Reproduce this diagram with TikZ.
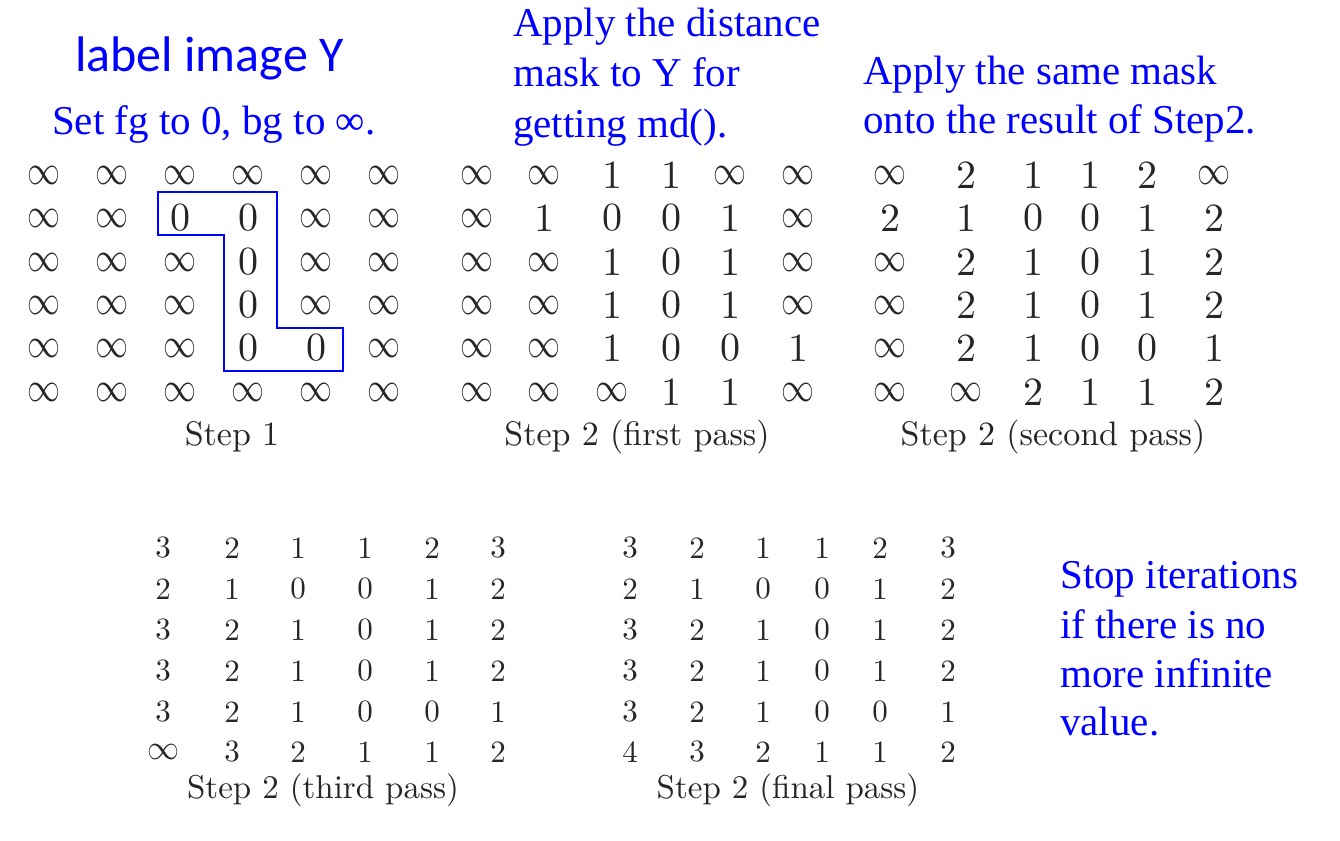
\documentclass[tikz,border=0pt]{standalone}
\usepackage{fontspec}
\usepackage{graphicx}
\newfontfamily\timesf{Liberation Serif}
\newfontfamily\calib{Carlito}
\newfontfamily\lmten{lmroman10-regular}[Extension=.otf]
\definecolor{ink}{HTML}{262626}
\definecolor{bluetxt}{HTML}{0000FF}
\newcommand\infbig{\resizebox{33pt}{18pt}{$\infty$}}
\newcommand\infsml{\resizebox{32pt}{15pt}{$\infty$}}
\newcommand\mkgrid[5]{%
  \foreach \rw [count=\r] in {#4} {%
    \foreach \v [count=\c] in \rw {%
      \pgfmathsetmacro\xx{{#2}[\c-1]}%
      \pgfmathsetmacro\yy{{#3}[\r-1]}%
      \node[#5] (#1-\r-\c) at (\xx,\yy) {\v};
    }}}
\begin{document}
\begin{tikzpicture}[x=1pt,y=-1pt,
  topcell/.style={inner sep=0pt, text=ink, font=\lmten\fontsize{40}{40}\selectfont},
  botcell/.style={inner sep=0pt, text=ink, font=\lmten\fontsize{31}{31}\selectfont},
  toplabel/.style={inner sep=0pt, anchor=base, text=ink, font=\lmten\fontsize{34}{34}\selectfont},
  botlabel/.style={inner sep=0pt, anchor=base, text=ink, font=\lmten\fontsize{33}{33}\selectfont},
  bluenote/.style={inner sep=0pt, anchor=base west, text=bluetxt, font=\timesf\fontsize{41}{41}\selectfont},
  outline/.style={draw=bluetxt, line width=1.7pt}]
\useasboundingbox (0,0) rectangle (1340,840);
\fill[white] (0,0) rectangle (1340,840);

% titles and notes
\node[inner sep=0pt, anchor=base west, text=bluetxt, font=\calib\fontsize{50}{50}\selectfont] (title) at (75,72) {label image Y};
\node[bluenote] (n1) at (52,135) {Set fg to 0, bg to ∞.};
\node[bluenote] (n2a) at (513,37) {Apply the distance};
\node[bluenote] (n2b) at (513,87) {mask to Y for};
\node[bluenote] (n2c) at (513,137) {getting md().};
\node[bluenote] (n3a) at (863,85) {Apply the same mask};
\node[bluenote] (n3b) at (863,133) {onto the result of Step2.};
\node[bluenote] (n4a) at (1060,588) {Stop iterations};
\node[bluenote] (n4b) at (1060,638) {if there is no};
\node[bluenote] (n4c) at (1060,687) {more infinite};
\node[bluenote] (n4d) at (1060,735) {value.};

% Step 1
\mkgrid{sa}{44,112,180,248,316,384}{175,218,262,305,348,392}{%
 {\infbig,\infbig,\infbig,\infbig,\infbig,\infbig},
 {\infbig,\infbig,0,0,\infbig,\infbig},
 {\infbig,\infbig,\infbig,0,\infbig,\infbig},
 {\infbig,\infbig,\infbig,0,\infbig,\infbig},
 {\infbig,\infbig,\infbig,0,0,\infbig},
 {\infbig,\infbig,\infbig,\infbig,\infbig,\infbig}}{topcell}
\draw[outline] (158,192) -- (277,192) -- (277,328) -- (343,328) -- (343,371) -- (224,371) -- (224,235) -- (158,235) -- cycle;
\node[toplabel] (la) at (232,445) {Step 1};

% Step 2 first pass
\mkgrid{sb}{477,544,612,671,730,798}{175,218,262,305,348,392}{%
 {\infbig,\infbig,1,1,\infbig,\infbig},
 {\infbig,1,0,0,1,\infbig},
 {\infbig,\infbig,1,0,1,\infbig},
 {\infbig,\infbig,1,0,1,\infbig},
 {\infbig,\infbig,1,0,0,1},
 {\infbig,\infbig,\infbig,1,1,\infbig}}{topcell}
\node[toplabel] (lb) at (637,445) {Step 2 (first pass)};

% Step 2 second pass
\mkgrid{sc}{890,966,1033,1090,1147,1214}{175,218,262,305,348,392}{%
 {\infbig,2,1,1,2,\infbig},
 {2,1,0,0,1,2},
 {\infbig,2,1,0,1,2},
 {\infbig,2,1,0,1,2},
 {\infbig,2,1,0,0,1},
 {\infbig,\infbig,2,1,1,2}}{topcell}
\node[toplabel] (lc) at (1053,445) {Step 2 (second pass)};

% Step 2 third pass
\mkgrid{sd}{163,232,298,365,432,498}{548,589,630,671,712,752}{%
 {3,2,1,1,2,3},
 {2,1,0,0,1,2},
 {3,2,1,0,1,2},
 {3,2,1,0,1,2},
 {3,2,1,0,0,1},
 {\infsml,3,2,1,1,2}}{botcell}
\node[botlabel] (ld) at (323,798) {Step 2 (third pass)};

% Step 2 final pass
\mkgrid{se}{630,697,763,822,880,948}{548,589,630,671,712,752}{%
 {3,2,1,1,2,3},
 {2,1,0,0,1,2},
 {3,2,1,0,1,2},
 {3,2,1,0,1,2},
 {3,2,1,0,0,1},
 {4,3,2,1,1,2}}{botcell}
\node[botlabel] (le) at (788,798) {Step 2 (final pass)};
\end{tikzpicture}
\end{document}
